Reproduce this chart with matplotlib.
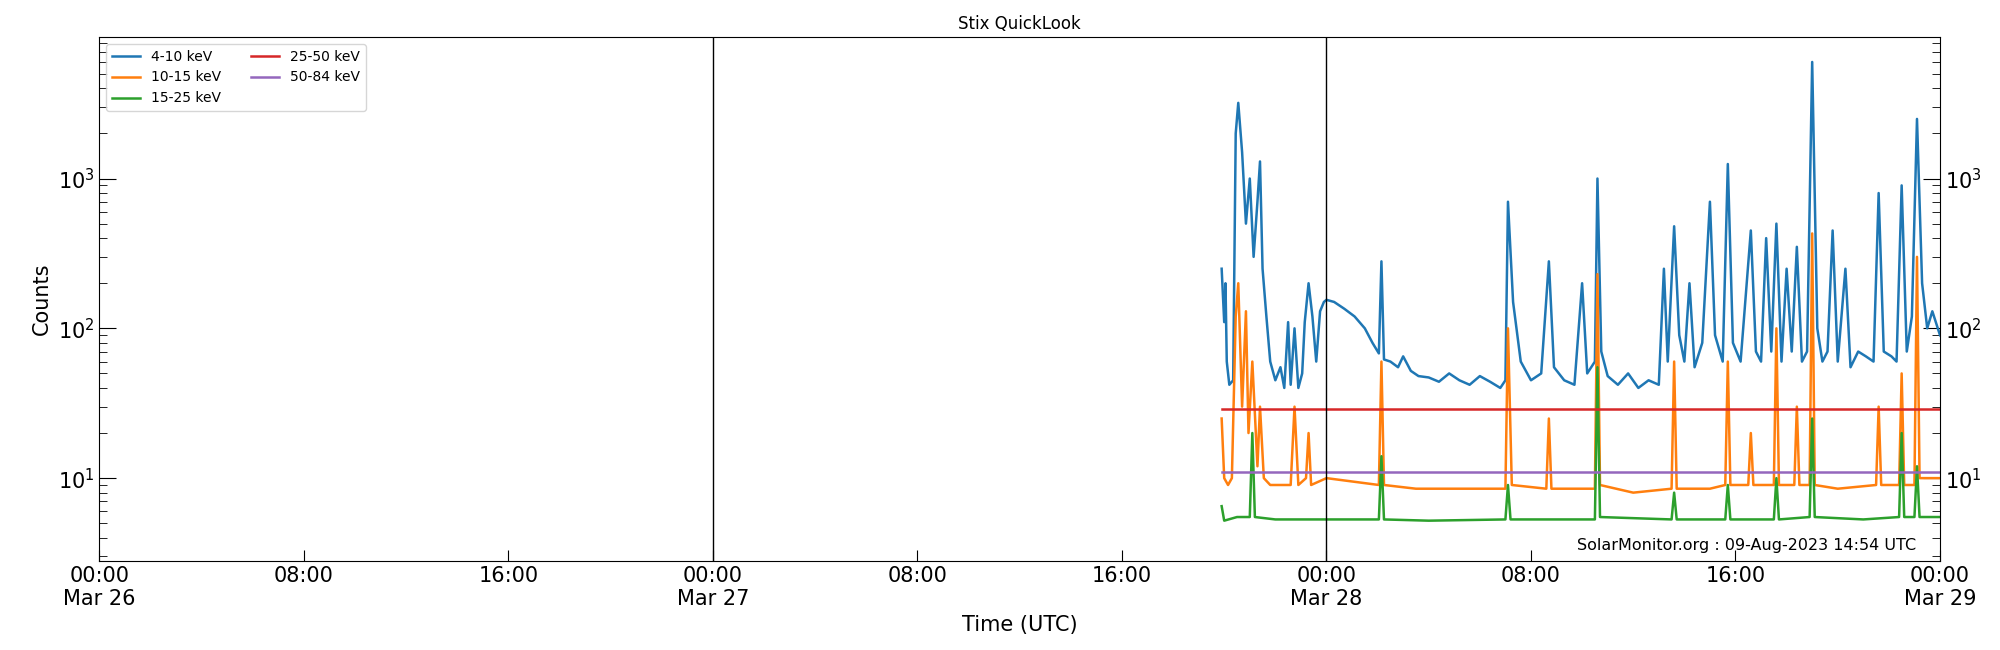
import numpy as np
import matplotlib
matplotlib.use('Agg')
import matplotlib.pyplot as plt
import matplotlib.dates as mdates
from matplotlib.ticker import FuncFormatter
from datetime import datetime, timedelta

T0 = datetime(2023, 3, 26)

# hours since Mar 26 00:00, counts
blue_t = [43.9, 44.0, 44.05, 44.1, 44.2, 44.35, 44.45, 44.55, 44.7, 44.85, 45.0, 45.15, 45.3, 45.4, 45.5, 45.65,
          45.8, 46.0, 46.2, 46.35, 46.5, 46.6, 46.75, 46.9, 47.05, 47.15, 47.3, 47.45, 47.6, 47.75, 47.9, 48.0,
          48.3, 48.7, 49.1, 49.5, 49.8, 50.05, 50.15, 50.25, 50.5, 50.8, 51.0, 51.3, 51.6, 52.0, 52.4, 52.8,
          53.2, 53.6, 54.0, 54.4, 54.8, 55.0, 55.1, 55.3, 55.6, 56.0, 56.4, 56.7, 56.9, 57.3, 57.7, 58.0, 58.2,
          58.5, 58.6, 58.75, 59.0, 59.4, 59.8, 60.2, 60.6, 61.0, 61.2, 61.35, 61.6, 61.8, 62.0, 62.2, 62.4,
          62.7, 63.0, 63.2, 63.5, 63.7, 63.9, 64.2, 64.6, 64.8, 65.0, 65.2, 65.4, 65.6, 65.8, 66.0, 66.2,
          66.4, 66.6, 66.8, 67.0, 67.2, 67.4, 67.6, 67.8, 68.0, 68.3, 68.5, 68.8, 69.1, 69.4, 69.6, 69.8,
          70.1, 70.3, 70.5, 70.7, 70.9, 71.1, 71.3, 71.5, 71.7, 72.0]
blue_v = [250, 110, 200, 60, 42, 45, 2000, 3200, 1500, 500, 1000, 300, 700, 1300, 250, 120,
          60, 45, 55, 40, 110, 42, 100, 40, 50, 110, 200, 120, 60, 130, 150, 155,
          150, 135, 120, 100, 80, 68, 280, 62, 60, 55, 65, 52, 48, 47, 44, 50,
          45, 42, 48, 44, 40, 45, 700, 150, 60, 45, 50, 280, 55, 45, 42, 200, 50,
          60, 1000, 70, 48, 42, 50, 40, 45, 42, 250, 60, 480, 90, 60, 200, 55,
          80, 700, 90, 60, 1250, 80, 60, 450, 70, 60, 400, 70, 500, 60, 250, 70,
          350, 60, 70, 6000, 100, 60, 70, 450, 60, 250, 55, 70, 65, 60, 800, 70,
          65, 60, 900, 70, 120, 2500, 200, 100, 130, 90]

orange_t = [43.9, 44.0, 44.15, 44.3, 44.45, 44.55, 44.7, 44.85, 44.95, 45.1, 45.3, 45.4, 45.55, 45.8, 46.2,
            46.6, 46.75, 46.9, 47.2, 47.3, 47.4, 48.0, 49.0, 50.05, 50.15, 50.25, 51.5, 53.0, 55.0, 55.1,
            55.25, 56.6, 56.7, 56.8, 58.5, 58.6, 58.7, 60.0, 61.5, 61.6, 61.7, 63.0, 63.6, 63.7, 63.8, 64.5,
            64.6, 64.7, 65.5, 65.6, 65.7, 66.3, 66.4, 66.5, 66.9, 67.0, 67.1, 68.0, 69.5, 69.6, 69.7, 70.4,
            70.5, 70.6, 71.0, 71.1, 71.2, 72.0]
orange_v = [25, 10, 9, 10, 120, 200, 30, 130, 20, 60, 12, 30, 10, 9, 9,
            9, 30, 9, 10, 20, 9, 10, 9.5, 9, 60, 9, 8.5, 8.5, 8.5, 100,
            9, 8.5, 25, 8.5, 8.5, 230, 9, 8, 8.5, 60, 8.5, 8.5, 9, 60, 9, 9,
            20, 9, 9, 100, 9, 9, 30, 9, 9, 430, 9, 8.5, 9, 30, 9, 9,
            50, 9, 9, 300, 10, 10]

green_t = [43.9, 44.0, 44.5, 45.0, 45.1, 45.2, 46.0, 48.0, 50.05, 50.15, 50.25, 52.0, 55.0, 55.1, 55.2,
           58.5, 58.6, 58.7, 61.5, 61.6, 61.7, 63.6, 63.7, 63.8, 65.5, 65.6, 65.7, 66.9, 67.0, 67.1,
           69.0, 70.4, 70.5, 70.6, 71.0, 71.1, 71.2, 72.0]
green_v = [6.5, 5.2, 5.5, 5.5, 20, 5.5, 5.3, 5.3, 5.3, 14, 5.3, 5.2, 5.3, 9, 5.3,
           5.3, 55, 5.5, 5.3, 8, 5.3, 5.3, 9, 5.3, 5.3, 10, 5.3, 5.5, 25, 5.5,
           5.3, 5.5, 20, 5.5, 5.5, 12, 5.5, 5.5]

red_t = [43.9, 72.0]
red_v = [29, 29]
purple_t = [43.9, 72.0]
purple_v = [11, 11]

series = [
    ('4-10 keV', blue_t, blue_v, 'tab:blue'),
    ('10-15 keV', orange_t, orange_v, 'tab:orange'),
    ('15-25 keV', green_t, green_v, 'tab:green'),
    ('25-50 keV', red_t, red_v, 'tab:red'),
    ('50-84 keV', purple_t, purple_v, 'tab:purple'),
]

fig = plt.figure(figsize=(20, 6.5), dpi=100)
ax = fig.add_axes([0.0497, 0.137, 0.9203, 0.806])

for label, ts, vs, c in series:
    x = [T0 + timedelta(hours=h) for h in ts]
    ax.plot(x, vs, color=c, lw=1.8, label=label)

for d in (27, 28):
    ax.axvline(datetime(2023, 3, d), color='black', lw=1)


def fmt_time(val, pos):
    d = mdates.num2date(val)
    if d.hour == 0:
        return d.strftime('%H:%M\n%b %d')
    return d.strftime('%H:%M')


ax.set_yscale('log')
ax.set_ylim(2.8, 8800)
ax.set_xlim(T0, T0 + timedelta(hours=72))
ax.xaxis.set_major_locator(mdates.HourLocator(byhour=[0, 8, 16]))
ax.xaxis.set_major_formatter(FuncFormatter(fmt_time))
ax.tick_params(axis='both', which='both', direction='in', right=True, labelright=True, labelsize=15)
ax.tick_params(axis='y', which='major', length=12)
ax.tick_params(axis='y', which='minor', length=6)
ax.tick_params(axis='x', which='major', length=8)

ax.set_xlabel('Time (UTC)', fontsize=15)
ax.set_ylabel('Counts', fontsize=15)
ax.set_title('Stix QuickLook', fontsize=12)
ax.legend(loc='upper left', ncol=2, fontsize=10, columnspacing=2.2)
ax.text(0.987, 0.015, 'SolarMonitor.org : 09-Aug-2023 14:54 UTC', transform=ax.transAxes,
        ha='right', va='bottom', fontsize=11.5)

fig.savefig('out.png')
